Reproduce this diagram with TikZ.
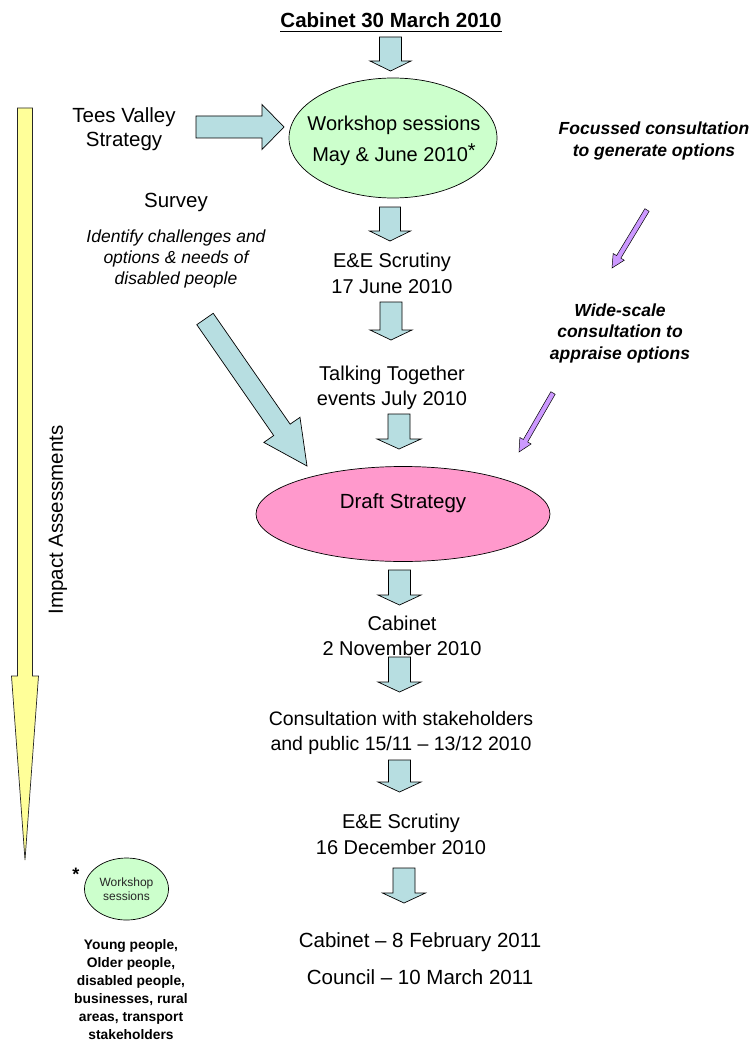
\documentclass[tikz,border=0pt]{standalone}
\usepackage{fontspec}
\setmainfont{Liberation Sans}
\usetikzlibrary{calc,shapes.geometric}
\definecolor{arrblue}{RGB}{183,222,225}
\definecolor{wsgreen}{RGB}{204,255,204}
\definecolor{draftpink}{RGB}{255,153,204}
\definecolor{impyellow}{RGB}{255,255,153}
\definecolor{conspurple}{RGB}{204,153,255}
% #1 style, #2 start, #3 end, #4 half shaft, #5 half head, #6 head length
\newcommand{\blockarr}[6][]{%
  \coordinate (hb) at ($(#3)!#6!(#2)$);
  \draw[blockarrow,#1] ($(#2)!#4!90:(#3)$) -- ($(hb)!#4!90:(#3)$) -- ($(hb)!#5!90:(#3)$)
    -- (#3) -- ($(hb)!#5!-90:(#3)$) -- ($(hb)!#4!-90:(#3)$) -- ($(#2)!#4!-90:(#3)$) -- cycle;
}
\begin{document}
\begin{tikzpicture}[x=1pt,y=-1pt,
  blockarrow/.style={draw=black, line width=0.7pt, fill=arrblue, line join=miter},
  txt/.style={align=center, inner sep=0pt, text=black},
  main/.style={txt, font=\fontsize{20}{26}\selectfont},
  ital/.style={txt, font=\fontsize{17.5}{21}\selectfont\itshape},
  bital/.style={txt, font=\fontsize{17.5}{22.5}\selectfont\bfseries\itshape},
]
\useasboundingbox (0,0) rectangle (755,1043);

% ---- nodes
\node[txt, font=\fontsize{20.5}{24}\selectfont\bfseries] (title) at (391,20) {Cabinet 30 March 2010};
\draw[line width=1.5pt] ($(title.base west)+(0,4)$) -- ($(title.base east)+(0,4)$);

\node[ellipse, draw=black, line width=0.7pt, fill=wsgreen, minimum width=208pt, minimum height=120pt, inner sep=0pt] (wsE) at (393,138) {};
\node[txt, font=\fontsize{20}{31}\selectfont] (wsT) at (394,141) {Workshop sessions\\May \& June 2010\raisebox{4pt}{*}};

\node[main, font=\fontsize{20.5}{24}\selectfont] (tees) at (124,129) {Tees Valley\\Strategy};

\node[bital] (focus) at (654,141) {Focussed consultation\\to generate options};

\node[main, font=\fontsize{20.5}{24}\selectfont] (survey) at (176,202) {Survey};
\node[ital] (surveyT) at (176,259) {Identify challenges and\\options \& needs of\\disabled people};

\node[main] (ee1) at (392,273) {E\&E Scrutiny\\17 June 2010};
\node[bital, font=\fontsize{17.5}{21.5}\selectfont\bfseries\itshape] (wide) at (620,333) {Wide-scale\\consultation to\\appraise options};
\node[main, font=\fontsize{20}{25}\selectfont] (talk) at (392,388) {Talking Together\\events July 2010};

\node[ellipse, draw=black, line width=0.7pt, fill=draftpink, minimum width=294pt, minimum height=95pt, inner sep=0pt] (draftE) at (403,514) {};
\node[txt, font=\fontsize{20.5}{24}\selectfont] (draftT) at (403,503) {Draft Strategy};

% impact assessments arrow
\coordinate (impS) at (25,108);
\coordinate (impE) at (25,860);
\blockarr[fill=impyellow, draw=black!85]{impS}{impE}{7.5pt}{13.5pt}{184pt}
\node[main, font=\fontsize{20.5}{24}\selectfont, rotate=90] (impact) at (58,520) {Impact Assessments};

% lower flow (arrows first so that texts stay on top)
\coordinate (a5s) at (399.5,570); \coordinate (a5e) at (399.5,605);
\coordinate (a6s) at (399.5,657); \coordinate (a6e) at (399.5,692);
\blockarr{a5s}{a5e}{11pt}{21.5pt}{10pt}
\blockarr{a6s}{a6e}{11pt}{21.5pt}{10pt}
\node[main, font=\fontsize{20}{25}\selectfont] (cab2) at (402,636) {Cabinet\\2 November 2010};
\node[main, font=\fontsize{19.5}{25}\selectfont] (consult) at (401,733) {Consultation with stakeholders\\and public 15/11 -- 13/12 2010};
\node[main] (ee2) at (401,834) {E\&E Scrutiny\\16 December 2010};
\node[main, font=\fontsize{20.5}{37}\selectfont] (final) at (420,959) {Cabinet -- 8 February 2011\\Council -- 10 March 2011};

% small legend
\node[txt, font=\fontsize{18}{20}\selectfont\bfseries] (star) at (76,874) {*};
\node[ellipse, draw=black, line width=0.7pt, fill=wsgreen, minimum width=84pt, minimum height=62pt, inner sep=0pt, align=center, font=\fontsize{12}{14}\selectfont, text=black!85] (smallE) at (126.5,889) {Workshop\\sessions};
\node[txt, font=\fontsize{13.8}{18}\selectfont\bfseries] (groups) at (131,990) {Young people,\\Older people,\\disabled people,\\businesses, rural\\areas, transport\\stakeholders};

% ---- block arrows
\coordinate (a1s) at (390.5,37); \coordinate (a1e) at (390.5,71);
\blockarr{a1s}{a1e}{11pt}{20.5pt}{10pt}
\coordinate (teesS) at (196,127); \coordinate (teesE) at (284,127);
\blockarr{teesS}{teesE}{11pt}{22.5pt}{22pt}
\coordinate (a2s) at (390,207); \coordinate (a2e) at (390,241);
\blockarr{a2s}{a2e}{10.5pt}{20.5pt}{10pt}
\coordinate (a3s) at (391,302); \coordinate (a3e) at (391,340);
\blockarr{a3s}{a3e}{11pt}{21pt}{10pt}
\coordinate (a4s) at (399,414); \coordinate (a4e) at (399,449);
\blockarr{a4s}{a4e}{11pt}{22pt}{10pt}
\coordinate (a7s) at (399.5,760); \coordinate (a7e) at (399.5,792);
\blockarr{a7s}{a7e}{11pt}{21.5pt}{10pt}
\coordinate (a8s) at (404,868); \coordinate (a8e) at (404,903);
\blockarr{a8s}{a8e}{11pt}{21.5pt}{10pt}
\coordinate (svS) at (205,319); \coordinate (svE) at (307,466);
\blockarr{svS}{svE}{10pt}{22pt}{44pt}

% purple arrows
\coordinate (p1s) at (647,210); \coordinate (p1e) at (612,268);
\blockarr[fill=conspurple, line width=0.5pt]{p1s}{p1e}{2.5pt}{6.5pt}{13pt}
\coordinate (p2s) at (553,393); \coordinate (p2e) at (519,452);
\blockarr[fill=conspurple, line width=0.5pt]{p2s}{p2e}{2.5pt}{6.5pt}{13pt}
\end{tikzpicture}
\end{document}
